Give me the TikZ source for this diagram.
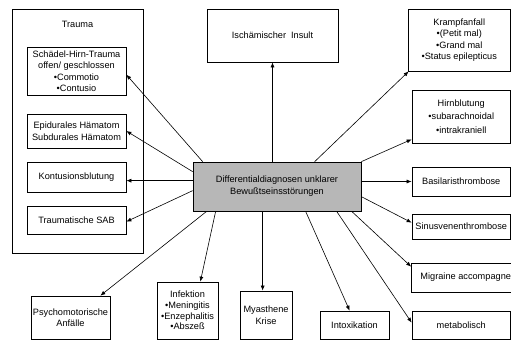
\documentclass[tikz,border=0pt]{standalone}
\usepackage{fontspec}
\setmainfont{Liberation Sans}
\usetikzlibrary{arrows.meta,calc}
\definecolor{boxgray}{RGB}{183,183,183}
\begin{document}
\begin{tikzpicture}[x=1pt,y=-1pt,
  box/.style={draw,line width=0.7pt,inner sep=0pt,align=center,
    font=\fontsize{9.2}{11.5}\selectfont},
  conn/.style={line width=0.6pt,-{Latex[length=5pt,width=4pt]}}]
\useasboundingbox (0,0) rectangle (511,340);
% Trauma group
\node[box,minimum width=131,minimum height=244] (tr) at (77.5,131) {};
\node[inner sep=0pt,font=\fontsize{9.2}{11.5}\selectfont] (trl) at (77.5,24) {Trauma};
\node[box,minimum width=99,minimum height=48] (sh) at (76.5,71)
  {Schädel-Hirn-Trauma\\offen/ geschlossen\\•Commotio\\•Contusio};
\node[box,minimum width=99,minimum height=34] (epi) at (76.5,131)
  {Epidurales Hämatom\\Subdurales Hämatom};
\node[box,minimum width=99,minimum height=30] (kont) at (76.5,177) {Kontusionsblutung};
\node[box,minimum width=99,minimum height=28] (sab) at (76.5,220) {Traumatische SAB};
% centre
\node[box,fill=boxgray,minimum width=168,minimum height=49,
  font=\fontsize{9.2}{12}\selectfont] (c) at (277,186.5)
  {Differentialdiagnosen unklarer\\Bewußtseinsstörungen};
% top
\node[box,minimum width=131,minimum height=53] (isch) at (272.5,35.5)
  {Ischämischer\hspace{5pt}Insult};
% right column
\node[box,minimum width=102.5,minimum height=62,
  font=\fontsize{9.2}{11.3}\selectfont] (kr) at (459.25,40)
  {Krampfanfall\\•(Petit mal)\\•Grand mal\\•Status epilepticus};
\node[box,minimum width=98.5,minimum height=53,
  font=\fontsize{9.2}{13.5}\selectfont] (hb) at (461.25,116.5)
  {Hirnblutung\\•subarachnoidal\\•intrakraniell};
\node[box,minimum width=98.5,minimum height=29] (bas) at (461.25,181.5) {Basilaristhrombose};
\node[box,minimum width=98.5,minimum height=25] (sin) at (461.25,226.5) {Sinusvenenthrombose};
\node[box,minimum width=98.5,minimum height=29] (mig) at (461.25,277.5)
  {\hspace*{9pt}Migraine accompagne};
\node[box,minimum width=98.5,minimum height=28] (met) at (461.25,325) {metabolisch};
% bottom row
\node[box,minimum width=79,minimum height=43] (psy) at (70.5,317.5)
  {Psychomotorische\\Anfälle};
\node[box,minimum width=61,minimum height=57,
  font=\fontsize{9.2}{10.8}\selectfont] (inf) at (187.5,310.5)
  {Infektion\\•Meningitis\\•Enzephalitis\\•Abszeß};
\node[box,minimum width=52,minimum height=48] (mya) at (266,315) {Myasthene\\Krise};
\node[box,minimum width=69,minimum height=28] (itx) at (354.5,325) {Intoxikation};
% connectors
\draw[conn] (isch.south |- c.north) -- (isch.south);
\draw[conn] ($(c.north west)+(10,0)$) -- ($(sh.north east)+(0,28)$);
\draw[conn] ($(c.north west)+(0,10)$) -- (epi.east);
\draw[conn] ($(c.north west)+(0,19)$) -- ($(kont.north east)+(0,19)$);
\draw[conn] ($(c.north west)+(0,29)$) -- ($(sab.north east)+(0,16)$);
\draw[conn] ($(c.south west)+(14,0)$) -- ($(psy.north east)+(-10,0)$);
\draw[conn] ($(c.south west)+(23,0)$) -- ($(inf.north east)+(-18,0)$);
\draw[conn] ($(c.south west)+(70,0)$) -- ($(mya.north west)+(23,0)$);
\draw[conn] ($(c.south west)+(113,0)$) -- ($(itx.north west)+(30,0)$);
\draw[conn] ($(c.south west)+(144,0)$) -- ($(met.north west)+(0,12)$);
\draw[conn] ($(c.south west)+(159,0)$) -- ($(mig.north west)+(0,4)$);
\draw[conn] ($(c.north east)+(0,35)$) -- ($(sin.north west)+(0,9)$);
\draw[conn] (c.east |- bas.west) -- (bas.west);
\draw[conn] (c.north east) -- ($(hb.south west)+(0,-4)$);
\draw[conn] ($(c.north west)+(122,0)$) -- ($(kr.south west)+(1,0)$);
\end{tikzpicture}
\end{document}
